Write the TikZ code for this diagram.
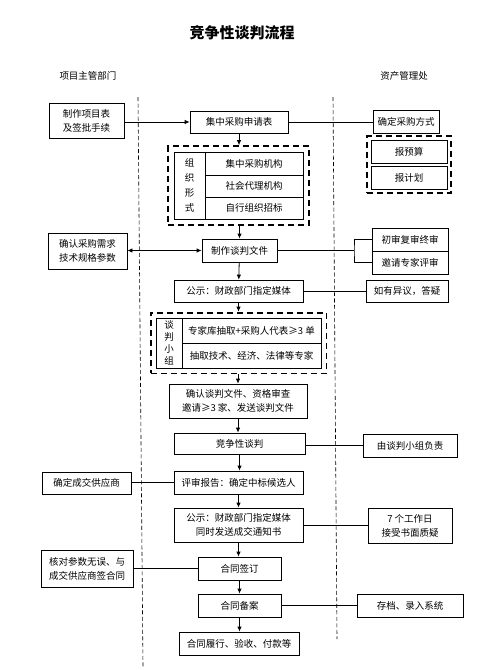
\documentclass[tikz,border=0pt]{standalone}
\usepackage{fontspec}
\setmainfont{Noto Sans CJK SC}
\usetikzlibrary{arrows.meta,fit,backgrounds}
\tikzset{
  stepbox/.style={draw, line width=0.8pt, inner sep=0pt, align=center,
    font=\fontsize{9.5}{14}\selectfont},
  lanelabel/.style={font=\fontsize{9.5}{12}\selectfont},
  flow/.style={-{Latex[length=5pt,width=4.5pt]}, line width=0.8pt},
  link/.style={line width=0.8pt},
  group/.style={draw, line width=1.8pt, dash pattern=on 6pt off 4pt},
  lane/.style={draw, line width=0.6pt, dash pattern=on 4pt off 2.5pt},
}

\begin{document}
\begin{tikzpicture}[x=1pt, y=-1pt]
\useasboundingbox (0,0) rectangle (494,670);

% Title and lanes.
\node[font=\fontsize{15}{18}\selectfont\bfseries] (title) at (242,33) {竞争性谈判流程};
\node[lanelabel] (deptL) at (88,76) {项目主管部门};
\node[lanelabel] (deptR) at (404,76) {资产管理处};
\draw[lane] (138,97) -- (143,668);
\draw[lane] (333,97) -- (337,639);

% Main column.
\node[stepbox, minimum width=98pt, minimum height=22pt] (apply) at (239,122) {集中采购申请表};
\node[stepbox, minimum width=31pt, minimum height=67pt,
  font=\fontsize{9.5}{15}\selectfont] (orglabel) at (189.5,185.5) {组\\织\\形\\式};
\node[stepbox, minimum width=98pt, minimum height=23pt] (org1) at (254,163.5) {集中采购机构};
\node[stepbox, minimum width=98pt, minimum height=22pt] (org2) at (254,186) {社会代理机构};
\node[stepbox, minimum width=98pt, minimum height=22pt] (org3) at (254,208) {自行组织招标};
\node[stepbox, minimum width=75pt, minimum height=23pt] (mkdoc) at (239.5,250.5) {制作谈判文件};
\node[stepbox, minimum width=129pt, minimum height=22pt] (notice1) at (238.5,291) {公示：财政部门指定媒体};
\node[stepbox, minimum width=26pt, minimum height=50pt,
  font=\fontsize{9.5}{12}\selectfont] (teamlabel) at (169,343) {谈\\判\\小\\组};
\node[stepbox, minimum width=139pt, minimum height=25pt] (team1) at (251.5,330.5) {专家库抽取+采购人代表≥3 单};
\node[stepbox, minimum width=139pt, minimum height=25pt] (team2) at (251.5,355.5) {抽取技术、经济、法律等专家};
\node[stepbox, minimum width=138pt, minimum height=34pt] (confirmdoc) at (238,401) {确认谈判文件、资格审查\\邀请≥3 家、发送谈判文件};
\node[stepbox, minimum width=131pt, minimum height=21pt] (negotiate) at (239.5,443.5) {竞争性谈判};
\node[stepbox, minimum width=129pt, minimum height=23pt] (report) at (238.5,482.5) {评审报告：确定中标候选人};
\node[stepbox, minimum width=129pt, minimum height=34pt] (notice2) at (238.5,525) {公示：财政部门指定媒体\\同时发送成交通知书};
\node[stepbox, minimum width=83pt, minimum height=23pt] (sign) at (239.5,568.5) {合同签订};
\node[stepbox, minimum width=83pt, minimum height=23pt] (record) at (239.5,605.5) {合同备案};
\node[stepbox, minimum width=120pt, minimum height=23pt] (perform) at (239,643.5) {合同履行、验收、付款等};

% Left column.
\node[stepbox, minimum width=75pt, minimum height=35pt] (mkform) at (86.5,120.5) {制作项目表\\及签批手续};
\node[stepbox, minimum width=79pt, minimum height=36pt] (needs) at (87.5,251) {确认采购需求\\技术规格参数};
\node[stepbox, minimum width=89pt, minimum height=22pt] (supplier) at (86.5,483) {确定成交供应商};
\node[stepbox, minimum width=92pt, minimum height=37pt] (check) at (87,568.5) {核对参数无误、与\\成交供应商签合同};

% Right column.
\node[stepbox, minimum width=66pt, minimum height=23pt] (method) at (406,121.5) {确定采购方式};
\node[stepbox, minimum width=76pt, minimum height=23pt] (budget) at (409,151.5) {报预算};
\node[stepbox, minimum width=76pt, minimum height=23pt] (plan) at (409,177.5) {报计划};
\node[stepbox, minimum width=76pt, minimum height=23pt] (review1) at (410,239.5) {初审复审终审};
\node[stepbox, minimum width=76pt, minimum height=23pt] (review2) at (410,262.5) {邀请专家评审};
\node[stepbox, minimum width=82pt, minimum height=22pt] (objection) at (407,291) {如有异议，答疑};
\node[stepbox, minimum width=94pt, minimum height=23pt] (charge) at (410,445.5) {由谈判小组负责};
\node[stepbox, minimum width=84pt, minimum height=35pt] (question) at (410,525.5) {7 个工作日\\接受书面质疑};
\node[stepbox, minimum width=106pt, minimum height=23pt] (archive) at (410,605.5) {存档、录入系统};

% Dashed groups.
\node[group, inner sep=5.5pt, fit=(orglabel)(org1)(org3)] (orggrp) {};
\node[group, inner sep=5pt, fit=(teamlabel)(team1)(team2)] (teamgrp) {};
\node[group, inner sep=3.5pt, fit=(budget)(plan)] (budgetgrp) {};

% Flow down the middle.
\draw[flow] (apply) -- (apply |- orggrp.north);
\draw[flow] (mkdoc |- orggrp.south) -- (mkdoc);
\draw[flow] (mkdoc) -- (notice1);
\draw[flow] (notice1) -- (notice1 |- teamgrp.north);
\draw[flow] (confirmdoc |- teamgrp.south) -- (confirmdoc);
\draw[flow] (confirmdoc) -- (confirmdoc |- negotiate.north);
\draw[flow] (negotiate) -- (negotiate |- report.north);
\draw[flow] (report) -- (notice2);
\draw[flow] (notice2) -- (notice2 |- sign.north);
\draw[flow] (sign) -- (record);
\draw[flow] (record) -- (record |- perform.north);

% Side links.
\draw[flow] (mkform.east |- apply.west) -- (apply.west);
\draw[{Latex[length=5pt,width=4.5pt]}-{Latex[length=5pt,width=4.5pt]}, line width=0.8pt] (needs.east |- mkdoc.west) -- (mkdoc.west);
\draw[link] (apply.east) -- (method.west |- apply.east);
\coordinate (brk) at (354,250.5);
\draw[link] (mkdoc.east) -- (brk);
\draw[link] (review1.west) -| (brk) |- (review2.west);
\draw[link] (notice1.east) -- (objection.west);
\draw[link] (negotiate.east |- charge.west) -- (charge.west);
\draw[link] (report.west) -- (supplier.east |- report.west);
\draw[link] (notice2.east) -- (question.west |- notice2.east);
\draw[link] (sign.west) -- (check.east |- sign.west);
\draw[link] (record.east) -- (archive.west);

\end{tikzpicture}
\end{document}
